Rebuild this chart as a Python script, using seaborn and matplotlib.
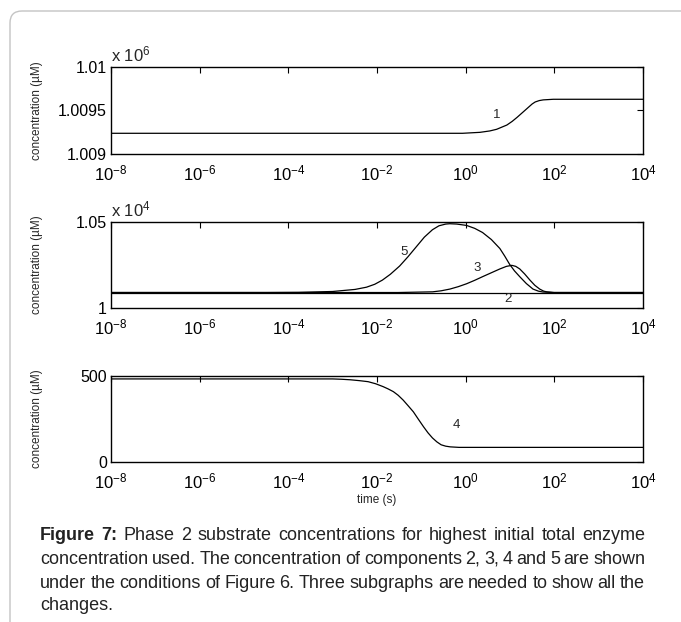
import numpy as np
import pandas as pd
import matplotlib
matplotlib.use("Agg")
import matplotlib.pyplot as plt
from matplotlib.patches import FancyBboxPatch
from matplotlib.ticker import LogFormatterMathtext, NullLocator, FixedLocator
import seaborn as sns

# ---- data ----
# component 1 (units of 1e6 uM)
t1 = [1e-8, 0.1, 0.85, 2.1, 3.5, 5.0, 8.5, 11.2, 14.5, 19.0, 24.5, 31.6, 37.0, 45.7, 56.2, 95.0, 1e4]
c1 = [1.009238, 1.009238, 1.009238, 1.009249, 1.009265, 1.009284, 1.009333, 1.009375, 1.009422,
      1.009475, 1.009525, 1.009575, 1.009598, 1.009614, 1.009622, 1.009629, 1.009629]

# components 5, 3, 2 (units of 1e4 uM)
t5 = [1e-8, 3.2e-5, 1.7e-4, 1e-3, 3.2e-3, 5.8e-3, 8.9e-3, 0.0132, 0.020, 0.0324, 0.050, 0.0776,
      0.117, 0.178, 0.25, 0.355, 0.44, 0.63, 1.05, 1.6, 2.4, 3.8, 5.9, 7.6, 9.8, 12.6, 16.6,
      23.4, 33.0, 43.7, 55.0, 93.0, 1e4]
c5 = [1.0090, 1.0090, 1.0091, 1.0096, 1.0108, 1.0121, 1.0138, 1.0162, 1.0196, 1.0244, 1.0298,
      1.0357, 1.0412, 1.0455, 1.0478, 1.0488, 1.0490, 1.0488, 1.0480, 1.0463, 1.0439, 1.0398,
      1.0346, 1.0302, 1.0254, 1.0216, 1.0182, 1.0142, 1.0110, 1.0098, 1.0093, 1.0090, 1.0090]
t3 = [1e-8, 0.03, 0.18, 0.28, 0.44, 0.68, 1.05, 1.6, 2.4, 3.8, 5.9, 8.3, 11.0, 13.5, 16.6, 21.4,
      28.2, 36.3, 46.8, 57.5, 67.6, 100.0, 1e4]
c3 = [1.0090, 1.0090, 1.0094, 1.0100, 1.0110, 1.0124, 1.0141, 1.0161, 1.0182, 1.0205, 1.0227,
      1.0242, 1.0248, 1.0242, 1.0227, 1.0198, 1.0162, 1.0132, 1.0110, 1.0098, 1.0094, 1.0090,
      1.0090]
t2 = [1e-8, 1e4]
c2 = [1.0090, 1.0090]

# component 4 (uM)
t4 = [1e-8, 1e-3, 1.6e-3, 2.5e-3, 4e-3, 6.3e-3, 9.3e-3, 0.0138, 0.0178, 0.0234, 0.030, 0.0389,
      0.050, 0.066, 0.085, 0.112, 0.141, 0.178, 0.224, 0.28, 0.355, 0.45, 0.71, 1e4]
c4 = [483, 483, 481, 478, 473, 467, 455, 438, 425, 409, 388, 360, 328, 292, 250, 205, 170, 140,
      117, 100, 92, 88, 85, 85]

x_ticks = [1e-8, 1e-6, 1e-4, 1e-2, 1e0, 1e2, 1e4]
caption = [
    "Figure 7: Phase 2 substrate concentrations for highest initial total enzyme",
    "concentration used.  The concentration of components 2, 3, 4 and 5 are shown",
    "under the conditions of Figure 6. Three subgraphs are needed to show all the",
    "changes.",
]

sns.set_style("white")
plt.rcParams['font.family'] = ['Liberation Sans', 'DejaVu Sans']
plt.rcParams['mathtext.fontset'] = 'custom'
plt.rcParams['mathtext.rm'] = 'Liberation Sans'
plt.rcParams['mathtext.it'] = 'Liberation Sans'
plt.rcParams['mathtext.default'] = 'regular'

W, H = 681, 622
fig = plt.figure(figsize=(W / 100, H / 100), dpi=100)

# page frame with rounded corner
frame = FancyBboxPatch((0.10, -0.5), 7.5, 6.11 + 0.5, boxstyle="round,pad=0,rounding_size=0.12",
                       transform=fig.dpi_scale_trans, fill=False, edgecolor="#c4c4c4", lw=1.0)
fig.patches.append(frame)


def add_axes(top_px, bot_px):
    left, right = 111, 643
    return fig.add_axes([left / W, 1 - bot_px / H, (right - left) / W, (bot_px - top_px) / H])


def style(ax, ylim, yticks, ylabels):
    ax.set_xscale("log")
    ax.set_xlim(1e-8, 1e4)
    ax.set_ylim(*ylim)
    ax.xaxis.set_major_locator(FixedLocator(x_ticks))
    ax.xaxis.set_minor_locator(NullLocator())
    ax.xaxis.set_major_formatter(LogFormatterMathtext())
    ax.set_yticks(yticks)
    ax.set_yticklabels(ylabels)
    ax.tick_params(direction="in", length=4, width=0.8, top=True, right=True, colors="black")
    ax.tick_params(axis="x", labelsize=12, pad=6.5)
    ax.tick_params(axis="y", labelsize=11.5, pad=3)
    for s in ax.spines.values():
        s.set_linewidth(1.0)
        s.set_color("black")
    ax.set_ylabel("concentration (\u00b5M)", fontsize=8.5, labelpad=6)
    ax.set_xlabel("")
    ax.yaxis.set_label_coords(-0.128, 0.5)


line_kw = dict(color="black", linewidth=0.9, estimator=None, sort=False, legend=False)

ax1 = add_axes(67, 154)
sns.lineplot(x=t1, y=c1, ax=ax1, **line_kw)
style(ax1, (1.009, 1.010), [1.009, 1.0095, 1.01], ["1.009", "1.0095", "1.01"])
ax1.text(5.0, 1.009448, "1", fontsize=9.5, ha="center", va="center")
ax1.text(0.0, 1.03, r"x 10$^{6}$", transform=ax1.transAxes, fontsize=12, ha="left", va="bottom")

ax2 = add_axes(222, 308)
sns.lineplot(x=t5, y=c5, ax=ax2, **line_kw)
sns.lineplot(x=t3, y=c3, ax=ax2, **line_kw)
sns.lineplot(x=t2, y=c2, ax=ax2, **line_kw)
style(ax2, (1.0, 1.05), [1.0, 1.05], ["1", "1.05"])
ax2.text(0.04, 1.0326, "5", fontsize=9.5, ha="center", va="center")
ax2.text(1.8, 1.0233, "3", fontsize=9.5, ha="center", va="center")
ax2.text(9.0, 1.0055, "2", fontsize=9.5, ha="center", va="center")
ax2.text(0.0, 1.03, r"x 10$^{4}$", transform=ax2.transAxes, fontsize=12, ha="left", va="bottom")

ax3 = add_axes(376, 462)
sns.lineplot(x=t4, y=c4, ax=ax3, **line_kw)
style(ax3, (0, 500), [0, 500], ["0", "500"])
ax3.text(0.63, 215, "4", fontsize=9.5, ha="center", va="center")
ax3.set_xlabel("time (s)", fontsize=8.5, labelpad=2)

# justified caption
renderer = fig.canvas.get_renderer()
x0, x1 = 40, 645
ys = [535, 559, 583, 606]
fs = 13
sp_a = fig.text(0, 0, "a a", fontsize=fs)
sp_b = fig.text(0, 0, "aa", fontsize=fs)
space = sp_a.get_window_extent(renderer).width - sp_b.get_window_extent(renderer).width
sp_a.remove()
sp_b.remove()
for i, (line, y) in enumerate(zip(caption, ys)):
    words = [w for w in line.split(" ") if w != ""]
    texts = []
    for j, w in enumerate(words):
        bold = i == 0 and j < 2
        t = fig.text(0, 1 - y / H, w, fontsize=fs, va="center", ha="left",
                     fontweight="bold" if bold else "normal", color="#222222")
        texts.append(t)
    widths = [t.get_window_extent(renderer).width for t in texts]
    if i < len(caption) - 1:
        gap = (x1 - x0 - sum(widths)) / (len(words) - 1)
    else:
        gap = space
    x = x0
    for t, w in zip(texts, widths):
        t.set_x(x / W)
        x += w + gap

fig.savefig("out.png", dpi=100)
